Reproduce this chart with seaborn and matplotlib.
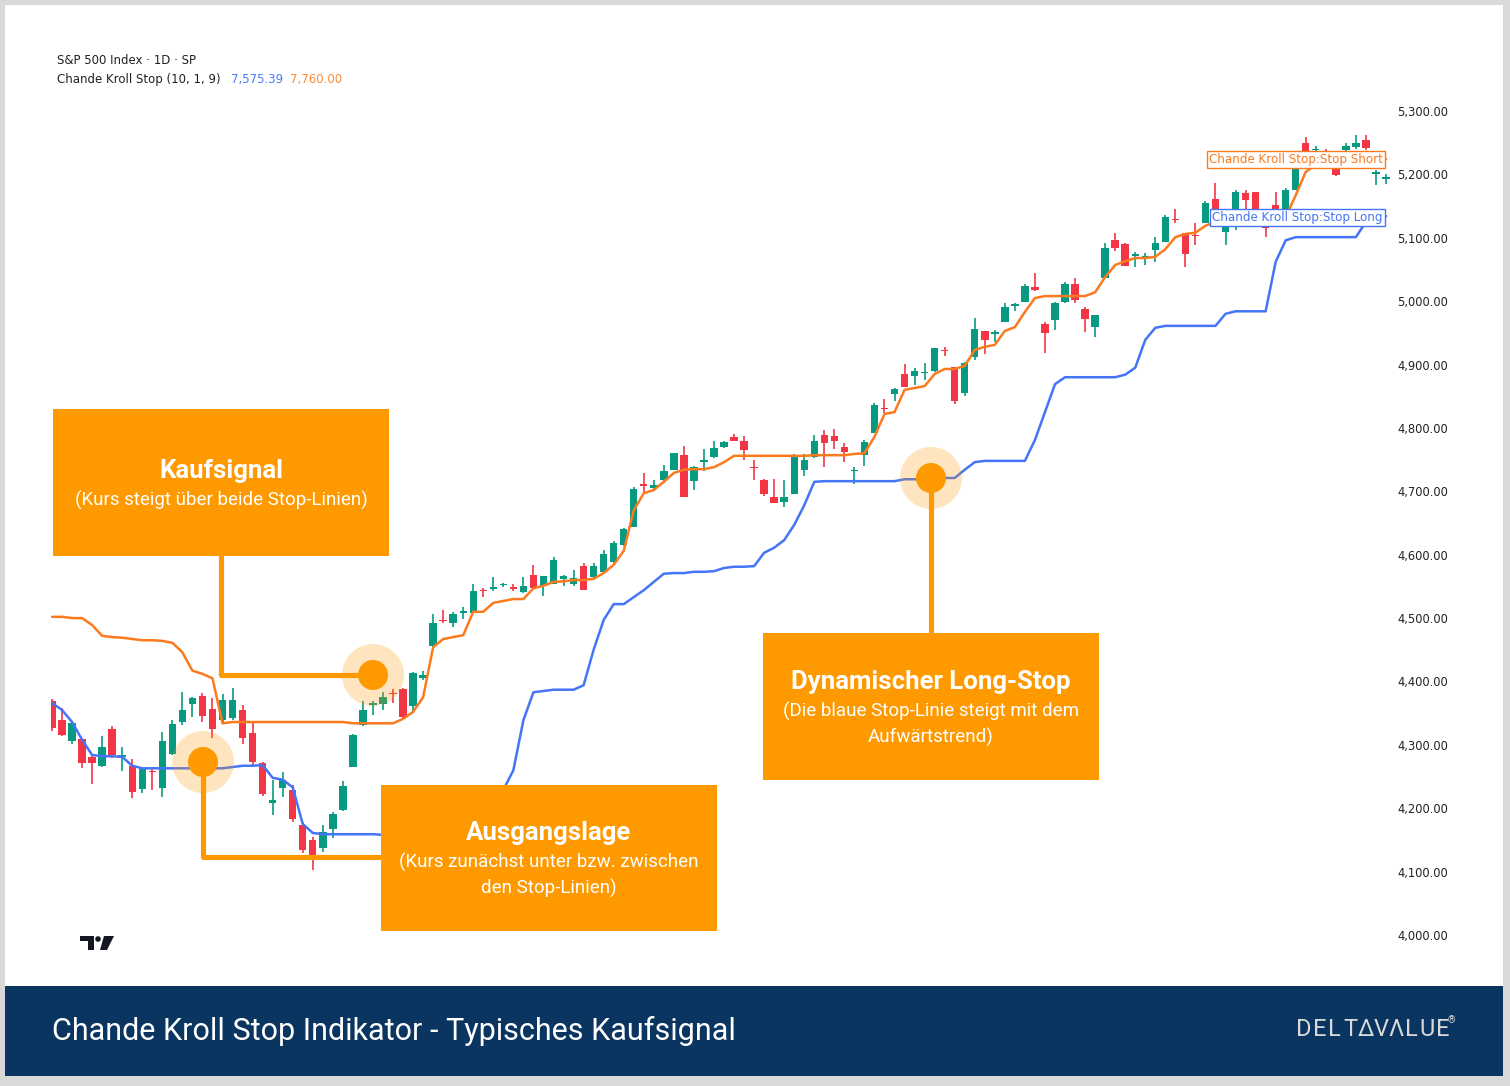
import numpy as np
import pandas as pd
import matplotlib
matplotlib.use("Agg")
import matplotlib.pyplot as plt
import seaborn as sns
from matplotlib.patches import Rectangle, Circle, Polygon
from matplotlib.ticker import FuncFormatter, FixedLocator

# ---------------- data ----------------
opens = [4369, 4339, 4306, 4309, 4281, 4267, 4325, 4281, 4267, 4230,
         4259, 4232, 4286, 4336, 4364, 4377, 4357, 4339, 4342, 4355,
         4319, 4271, 4208, 4232, 4229, 4174, 4150, 4137, 4167, 4197,
         4265, 4331, 4363, 4364, 4381, 4388, 4361, 4406, 4456, 4497,
         4492, 4508, 4508, 4543, 4546, 4552, 4549, 4541, 4568, 4551,
         4554, 4562, 4554, 4582, 4565, 4573, 4589, 4615, 4644, 4712,
         4706, 4718, 4734, 4757, 4716, 4747, 4754, 4770, 4785, 4780,
         4738, 4718, 4691, 4683, 4695, 4734, 4754, 4789, 4787, 4770,
         4732, 4757, 4792, 4831, 4854, 4885, 4882, 4886, 4890, 4923,
         4896, 4855, 4912, 4953, 4948, 4967, 4992, 4999, 5022, 4964,
         4970, 4999, 5027, 4988, 4959, 5036, 5096, 5090, 5072, 5068,
         5081, 5093, 5130, 5108, 5104, 5123, 5161, 5109, 5133, 5170,
         5172, 5125, 5152, 5133, 5175, 5250, 5238, 5236, 5208, 5238,
         5243, 5254, 5201, 5192]
highs = [4372, 4358, 4335, 4311, 4283, 4314, 4330, 4297, 4278, 4264,
         4265, 4320, 4339, 4383, 4376, 4382, 4374, 4380, 4390, 4363,
         4335, 4273, 4245, 4257, 4237, 4178, 4155, 4174, 4194, 4243,
         4317, 4369, 4369, 4383, 4388, 4390, 4415, 4417, 4506, 4513,
         4510, 4517, 4554, 4547, 4565, 4556, 4554, 4565, 4584, 4567,
         4597, 4568, 4576, 4587, 4587, 4607, 4622, 4642, 4707, 4729,
         4718, 4742, 4761, 4771, 4740, 4766, 4779, 4779, 4791, 4787,
         4749, 4720, 4720, 4718, 4759, 4759, 4789, 4797, 4798, 4776,
         4738, 4781, 4839, 4846, 4863, 4901, 4895, 4902, 4926, 4928,
         4896, 4904, 4973, 4953, 4954, 4997, 4997, 5027, 5044, 4967,
         4999, 5030, 5037, 4991, 4978, 5092, 5107, 5092, 5078, 5076,
         5101, 5136, 5145, 5108, 5123, 5158, 5186, 5128, 5175, 5175,
         5172, 5128, 5172, 5178, 5218, 5259, 5245, 5240, 5215, 5250,
         5262, 5262, 5207, 5200]
lows = [4322, 4314, 4301, 4263, 4238, 4265, 4279, 4259, 4216, 4224,
        4229, 4218, 4284, 4331, 4344, 4336, 4311, 4336, 4339, 4301,
        4268, 4220, 4189, 4218, 4178, 4129, 4103, 4131, 4153, 4196,
        4265, 4330, 4347, 4355, 4366, 4342, 4350, 4402, 4454, 4492,
        4486, 4498, 4508, 4534, 4543, 4549, 4543, 4540, 4547, 4535,
        4554, 4551, 4551, 4544, 4562, 4573, 4587, 4614, 4644, 4698,
        4701, 4717, 4734, 4691, 4702, 4732, 4752, 4768, 4780, 4749,
        4718, 4693, 4681, 4675, 4695, 4724, 4752, 4738, 4767, 4746,
        4711, 4740, 4792, 4824, 4843, 4865, 4867, 4876, 4889, 4913,
        4838, 4850, 4907, 4917, 4935, 4967, 4984, 4999, 5016, 4918,
        4954, 4997, 4997, 4951, 4943, 5036, 5079, 5055, 5054, 5057,
        5062, 5093, 5123, 5054, 5089, 5123, 5128, 5089, 5112, 5133,
        5133, 5101, 5133, 5133, 5175, 5234, 5230, 5228, 5198, 5236,
        5240, 5238, 5183, 5185]
closes = [4327, 4316, 4335, 4271, 4271, 4297, 4284, 4284, 4226, 4262,
          4257, 4306, 4333, 4355, 4374, 4346, 4325, 4371, 4371, 4311,
          4273, 4222, 4213, 4245, 4183, 4134, 4118, 4163, 4191, 4235,
          4316, 4355, 4366, 4375, 4380, 4344, 4413, 4410, 4492, 4495,
          4506, 4511, 4543, 4542, 4549, 4554, 4546, 4551, 4547, 4566,
          4592, 4567, 4563, 4544, 4582, 4601, 4618, 4641, 4704, 4709,
          4710, 4732, 4760, 4691, 4738, 4749, 4769, 4778, 4780, 4765,
          4736, 4695, 4681, 4691, 4757, 4750, 4780, 4776, 4780, 4762,
          4733, 4778, 4836, 4830, 4861, 4865, 4890, 4888, 4926, 4921,
          4842, 4902, 4956, 4939, 4951, 4991, 4995, 5024, 5018, 4950,
          4997, 5027, 5002, 4972, 4978, 5084, 5084, 5055, 5075, 5071,
          5092, 5133, 5128, 5074, 5103, 5155, 5136, 5123, 5172, 5159,
          5133, 5115, 5133, 5175, 5212, 5234, 5240, 5233, 5199, 5245,
          5250, 5242, 5203, 5196]
stop_short = [4502, 4502, 4500, 4500, 4489, 4472, 4470, 4469, 4467, 4465,
              4465, 4464, 4461, 4446, 4417, 4412, 4405, 4334, 4336, 4336,
              4336, 4336, 4336, 4336, 4336, 4336, 4336, 4336, 4336, 4336,
              4334, 4334, 4334, 4334, 4334, 4341, 4352, 4375, 4454, 4467,
              4470, 4473, 4510, 4510, 4524, 4527, 4530, 4530, 4547, 4551,
              4557, 4558, 4560, 4560, 4562, 4571, 4584, 4606, 4670, 4697,
              4702, 4715, 4729, 4734, 4735, 4735, 4738, 4746, 4756, 4756,
              4756, 4756, 4756, 4756, 4756, 4756, 4757, 4757, 4757, 4757,
              4759, 4760, 4786, 4822, 4825, 4860, 4863, 4866, 4885, 4893,
              4893, 4898, 4923, 4928, 4931, 4953, 4959, 4983, 5005, 5008,
              5008, 5008, 5008, 5008, 5014, 5038, 5057, 5063, 5068, 5068,
              5070, 5082, 5101, 5106, 5108, 5119, 5125, 5125, 5128, 5130,
              5131, 5131, 5131, 5133, 5167, 5204, 5215, 5218, 5220, 5220,
              5221, 5223, 5223, 5224]
stop_long = [4366, 4355, 4336, 4308, 4284, 4282, 4282, 4281, 4267, 4263,
             4263, 4263, 4263, 4263, 4263, 4263, 4263, 4263, 4265, 4267,
             4267, 4268, 4248, 4245, 4233, 4175, 4161, 4159, 4159, 4159,
             4159, 4159, 4159, 4158, 4158, 4158, 4158, 4158, 4158, 4158,
             4159, 4162, 4172, 4189, 4213, 4229, 4260, 4339, 4383, 4385,
             4387, 4387, 4387, 4394, 4450, 4497, 4522, 4522, 4533, 4544,
             4557, 4570, 4571, 4571, 4573, 4573, 4574, 4579, 4581, 4581,
             4582, 4603, 4611, 4623, 4647, 4678, 4715, 4716, 4716, 4716,
             4716, 4716, 4716, 4716, 4716, 4719, 4719, 4719, 4719, 4721,
             4721, 4734, 4746, 4748, 4748, 4748, 4748, 4748, 4781, 4825,
             4869, 4880, 4880, 4880, 4880, 4880, 4880, 4884, 4895, 4939,
             4958, 4961, 4961, 4961, 4961, 4961, 4961, 4980, 4984, 4984,
             4984, 4984, 5062, 5096, 5101, 5101, 5101, 5101, 5101, 5101,
             5101, 5125, 5133, 5134]
y_ticks = [4000, 4100, 4200, 4300, 4400, 4500, 4600, 4700, 4800, 4900, 5000, 5100, 5200, 5300]

header_line1 = "S&P 500 Index · 1D · SP"
header_line2 = "Chande Kroll Stop (10, 1, 9)"
header_long_val = "7,575.39"
header_short_val = "7,760.00"
title = "Chande Kroll Stop Indikator - Typisches Kaufsignal"

# ---------------- style ----------------
sns.set_theme(style="white")
plt.rcParams['font.family'] = ['Roboto', 'DejaVu Sans']

GREEN = "#089981"
RED = "#F23645"
BLUE = "#4474f7"
ORANGE_LINE = "#fb7a1e"
BOX = "#FF9900"
NAVY = "#0a3560"
TVFONT = ["DejaVu Sans"]

W, H = 1510, 1086
fig = plt.figure(figsize=(W / 100, H / 100), dpi=100)
fig.patch.set_facecolor("#d9d9d9")

# background card (pixel coordinates)
bg = fig.add_axes([0, 0, 1, 1], zorder=0)
bg.set_xlim(0, W); bg.set_ylim(H, 0); bg.axis("off")
bg.add_patch(Rectangle((5, 5), 1498, 981, facecolor="white", edgecolor="none"))
bg.add_patch(Rectangle((5, 986), 1498, 90, facecolor=NAVY, edgecolor="none"))

# ---------------- main chart ----------------
left_px, right_px, top_px, bot_px = 51, 1390, 100, 960
ax = fig.add_axes([left_px / W, (H - bot_px) / H, (right_px - left_px) / W, (bot_px - top_px) / H], zorder=1)
ax.set_facecolor("none")

n = len(opens)
idx = np.arange(1, n + 1)
df = pd.DataFrame({"idx": idx, "open": opens, "high": highs, "low": lows, "close": closes,
                   "stop_short": stop_short, "stop_long": stop_long})
colors = np.where(df["close"] >= df["open"], GREEN, RED)

ax.vlines(df["idx"], df["low"], df["high"], colors=colors, linewidth=1.2, zorder=2)
body_lo = np.minimum(df["open"], df["close"])
body_h = np.maximum(np.abs(df["close"] - df["open"]), 1.6)
ax.bar(df["idx"], body_h, bottom=body_lo, width=0.74, color=colors, linewidth=0, zorder=2)

sns.lineplot(data=df, x="idx", y="stop_short", color=ORANGE_LINE, linewidth=1.8, ax=ax,
             estimator=None, zorder=3)
sns.lineplot(data=df, x="idx", y="stop_long", color=BLUE, linewidth=1.8, ax=ax,
             estimator=None, zorder=3)

px_per_pt = 824 / 1300.0
ax.set_ylim(4000 - (bot_px - 935) / px_per_pt, 5300 + (111 - top_px) / px_per_pt)
step = 10.03
ax.set_xlim(1 + (left_px - 52) / step, 1 + (right_px - 52) / step)
for s in ax.spines.values():
    s.set_visible(False)
ax.set_xticks([])
ax.set_xlabel(""); ax.set_ylabel("")
ax.yaxis.tick_right()
ax.yaxis.set_major_locator(FixedLocator(y_ticks))
ax.yaxis.set_major_formatter(FuncFormatter(lambda v, p: f"{v:,.2f}"))
ax.tick_params(axis="y", length=0, pad=5, labelsize=8.3, labelcolor="#222222")
for lab in ax.get_yticklabels():
    lab.set_family(TVFONT)

# ---------------- overlay (annotations) ----------------
ov = fig.add_axes([0, 0, 1, 1], zorder=5)
ov.set_xlim(0, W); ov.set_ylim(H, 0); ov.axis("off")
ov.patch.set_alpha(0)

# header texts
HF = 8.5
ov.text(57, 61, header_line1, fontsize=HF, family=TVFONT, color="#222222", va="center", ha="left")
ov.text(57, 80, header_line2, fontsize=HF, family=TVFONT, color="#222222", va="center", ha="left")
ov.text(231, 80, header_long_val, fontsize=HF, family=TVFONT, color="#4a7cf7", va="center", ha="left")
ov.text(290, 80, header_short_val, fontsize=HF, family=TVFONT, color="#fb8c3a", va="center", ha="left")

# right-side line labels
LF = 8.6
ov.text(1383, 159.5, "Chande Kroll Stop:Stop Short", fontsize=LF, family=TVFONT, color=ORANGE_LINE,
        ha="right", va="center",
        bbox=dict(boxstyle="square,pad=0.18", facecolor="white", edgecolor=ORANGE_LINE, linewidth=1))
ov.text(1383, 217.5, "Chande Kroll Stop:Stop Long", fontsize=LF, family=TVFONT, color=BLUE,
        ha="right", va="center",
        bbox=dict(boxstyle="square,pad=0.18", facecolor="white", edgecolor=BLUE, linewidth=1))

def marker(cx, cy):
    ov.add_patch(Circle((cx, cy), 31, facecolor=BOX, alpha=0.25, edgecolor="none", zorder=2))
    ov.add_patch(Circle((cx, cy), 15, facecolor=BOX, edgecolor="none", zorder=4))

lw_conn = 3.7
TS, SS = 18.5, 13.5
# Kaufsignal
marker(373, 675)
ov.plot([221, 221, 373], [556, 675, 675], color=BOX, linewidth=lw_conn, solid_joinstyle="round", zorder=3)
ov.add_patch(Rectangle((53, 409), 336, 147, facecolor=BOX, edgecolor="none", zorder=5))
ov.text(221, 471, "Kaufsignal", color="white", fontsize=TS, fontweight="bold", ha="center", va="center", zorder=6)
ov.text(221, 500, "(Kurs steigt über beide Stop-Linien)", color="white", fontsize=SS, ha="center", va="center", zorder=6)

# Ausgangslage
marker(203, 762)
ov.plot([203, 203, 381], [762, 857, 857], color=BOX, linewidth=lw_conn, solid_joinstyle="round", zorder=3)
ov.add_patch(Rectangle((381, 785), 336, 146, facecolor=BOX, edgecolor="none", zorder=5))
ov.text(549, 833, "Ausgangslage", color="white", fontsize=TS, fontweight="bold", ha="center", va="center", zorder=6)
ov.text(549, 862, "(Kurs zunächst unter bzw. zwischen", color="white", fontsize=SS, ha="center", va="center", zorder=6)
ov.text(549, 888, "den Stop-Linien)", color="white", fontsize=SS, ha="center", va="center", zorder=6)

# Dynamischer Long-Stop
marker(931, 478)
ov.plot([931, 931], [478, 633], color=BOX, linewidth=lw_conn, zorder=3)
ov.add_patch(Rectangle((763, 633), 336, 147, facecolor=BOX, edgecolor="none", zorder=5))
ov.text(931, 682, "Dynamischer Long-Stop", color="white", fontsize=TS, fontweight="bold", ha="center", va="center", zorder=6)
ov.text(931, 711, "(Die blaue Stop-Linie steigt mit dem", color="white", fontsize=SS, ha="center", va="center", zorder=6)
ov.text(931, 737, "Aufwärtstrend)", color="white", fontsize=SS, ha="center", va="center", zorder=6)

# TradingView-like logo
ov.add_patch(Polygon([(80, 936), (94, 936), (94, 950), (88, 950), (88, 941), (80, 941)],
                     closed=True, facecolor="#131722", edgecolor="none"))
ov.add_patch(Circle((98, 939), 2.8, facecolor="#131722", edgecolor="none"))
ov.add_patch(Polygon([(104, 936), (114, 936), (107, 950), (100, 950)],
                     closed=True, facecolor="#131722", edgecolor="none"))

# bottom banner texts
ov.text(52, 1031, title, color="white", fontsize=22, ha="left", va="center")
logo_chars = ["D", "E", "L", "T", "Δ", "V", "Λ", "L", "U", "E"]
for k, ch in enumerate(logo_chars):
    ov.text(1304 + k * 15.4, 1030, ch, color="#d9d9d9", fontsize=17, ha="center", va="center")
ov.text(1451, 1020, "®", color="#d9d9d9", fontsize=7, ha="center", va="center")

fig.savefig("out.png", dpi=100, facecolor=fig.get_facecolor())
